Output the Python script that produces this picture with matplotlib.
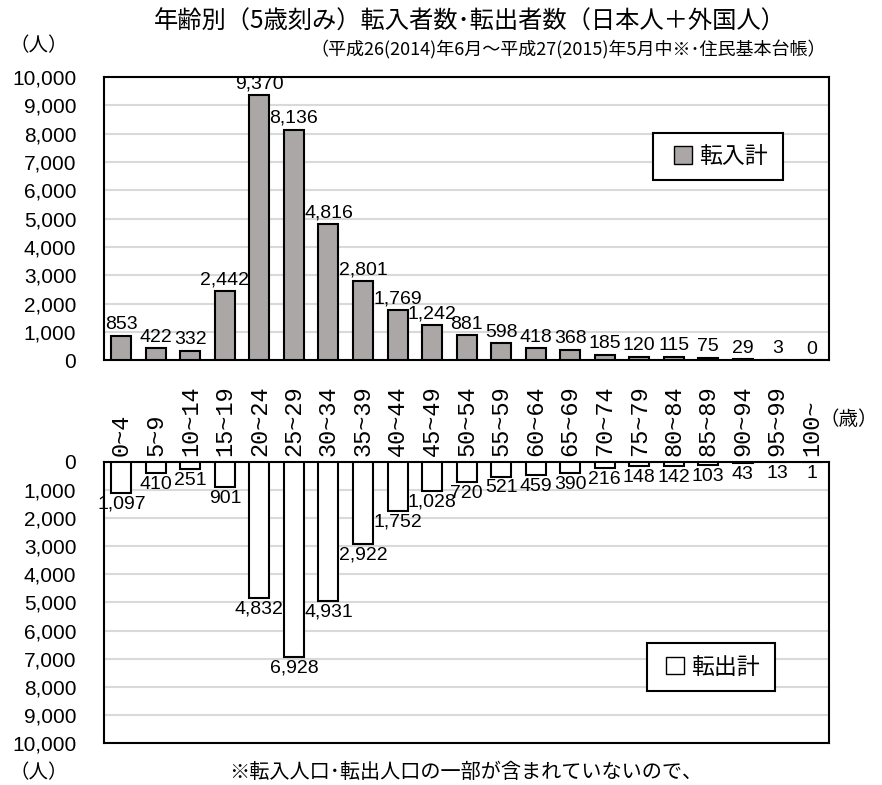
import matplotlib
matplotlib.use('Agg')
import matplotlib.pyplot as plt
import numpy as np
from matplotlib.patches import Patch, Rectangle
from matplotlib.ticker import FuncFormatter

plt.rcParams['font.family'] = ['Noto Sans CJK JP', 'DejaVu Sans']

age_groups = ['0~4', '5~9', '10~14', '15~19', '20~24', '25~29', '30~34', '35~39',
              '40~44', '45~49', '50~54', '55~59', '60~64', '65~69', '70~74', '75~79',
              '80~84', '85~89', '90~94', '95~99', '100~']
moved_in = [853, 422, 332, 2442, 9370, 8136, 4816, 2801, 1769, 1242, 881, 598,
            418, 368, 185, 120, 115, 75, 29, 3, 0]
moved_out = [1097, 410, 251, 901, 4832, 6928, 4931, 2922, 1752, 1028, 720, 521,
             459, 390, 216, 148, 142, 103, 43, 13, 1]

num_font = ['Liberation Sans Narrow', 'Liberation Sans', 'DejaVu Sans']
gray = '#aba7a7'
grid_c = '#d9d9d9'

fig = plt.figure(figsize=(8.82, 7.85), dpi=100)
ax1 = fig.add_axes([0.118, 0.541, 0.822, 0.361])
ax2 = fig.add_axes([0.118, 0.0535, 0.822, 0.358])

x = np.arange(len(age_groups))
fmt = FuncFormatter(lambda v, p: f'{int(v):,}')

ax1.bar(x, moved_in, width=0.58, color=gray, edgecolor='black', linewidth=1.5, zorder=3)
ax2.bar(x, moved_out, width=0.58, color='white', edgecolor='black', linewidth=1.5, zorder=3)

for ax in (ax1, ax2):
    ax.set_xlim(-0.5, len(age_groups) - 0.5)
    ax.set_ylim(0, 10000)
    ax.set_yticks(np.arange(0, 10001, 1000))
    ax.yaxis.set_major_formatter(fmt)
    ax.yaxis.grid(True, color=grid_c, linewidth=1.5, zorder=0)
    ax.set_axisbelow(True)
    ax.tick_params(axis='y', length=0, labelsize=15, pad=20)
    ax.tick_params(axis='x', length=0)
    for lab in ax.get_yticklabels():
        lab.set_family(num_font)
    for s in ax.spines.values():
        s.set_linewidth(1.5)
        s.set_color('black')

ax2.invert_yaxis()
ax1.set_xticks([])
ax2.set_xticks(x)
ax2.set_xticklabels(age_groups, rotation=90, family=['Liberation Mono', 'DejaVu Sans Mono'],
                    fontsize=17)
ax2.xaxis.set_ticks_position('top')
ax2.tick_params(axis='x', pad=4)

for xi, v in zip(x, moved_in):
    ax1.annotate(f'{v:,}', (xi, v), xytext=(0, 2), textcoords='offset points',
                 ha='center', va='bottom', fontsize=14, family=num_font)
for xi, v in zip(x, moved_out):
    ax2.annotate(f'{v:,}', (xi, v), xytext=(0, -2), textcoords='offset points',
                 ha='center', va='top', fontsize=14, family=num_font)

# legend boxes: frame drawn separately, legend itself unframed
leg_kw = dict(frameon=False, fontsize=16.5, handlelength=0.8, handleheight=0.8,
              handletextpad=0.3, borderpad=0, loc='center')
ax1.add_patch(Rectangle((0.757, 0.636), 0.18, 0.166, transform=ax1.transAxes,
                        facecolor='white', edgecolor='black', linewidth=1.5, zorder=4))
l1 = ax1.legend([Patch(facecolor=gray, edgecolor='black')], ['転入計'],
                bbox_to_anchor=(0.851, 0.719), **leg_kw)
l1.set_zorder(5)
ax2.add_patch(Rectangle((0.749, 0.185), 0.177, 0.171, transform=ax2.transAxes,
                        facecolor='white', edgecolor='black', linewidth=1.5, zorder=4))
l2 = ax2.legend([Patch(facecolor='white', edgecolor='black')], ['転出計'],
                bbox_to_anchor=(0.840, 0.27), **leg_kw)
l2.set_zorder(5)

fig.text(0.533, 0.973, '年齢別（5歳刻み）転入者数･転出者数（日本人＋外国人）',
         ha='center', va='center', fontsize=17.5)
fig.text(0.937, 0.937, '（平成26(2014)年6月～平成27(2015)年5月中※･住民基本台帳）',
         ha='right', va='center', fontsize=13)
fig.text(0.044, 0.942, '（人）', ha='center', va='center', fontsize=14)
fig.text(0.044, 0.016, '（人）', ha='center', va='center', fontsize=14)
fig.text(0.962, 0.465, '（歳）', ha='center', va='center', fontsize=14)
fig.text(0.528, 0.016, '※転入人口･転出人口の一部が含まれていないので、',
         ha='center', va='center', fontsize=14.5)

fig.savefig('out.png', dpi=100)
